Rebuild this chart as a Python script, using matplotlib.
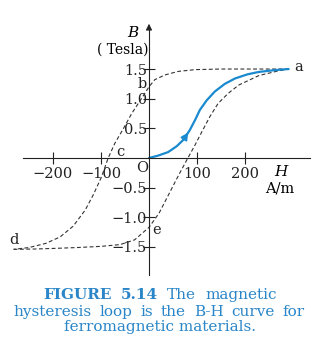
import matplotlib
matplotlib.use("Agg")
import matplotlib.pyplot as plt

# B-H hysteresis data (H in A/m, B in Tesla)
init_H = [0, 19, 40, 58, 72, 85, 96, 106, 120, 137, 158, 179, 205, 228, 260, 291]
init_B = [0, 0.04, 0.10, 0.20, 0.31, 0.47, 0.64, 0.81, 0.97, 1.12, 1.25, 1.34, 1.41, 1.45, 1.48, 1.50]

upper_H = [291, 250, 200, 150, 96, 61, 33, 12, 0, -15, -36, -53, -71, -85, -99, -116, -133, -158, -185, -215, -250, -282]
upper_B = [1.50, 1.50, 1.50, 1.50, 1.49, 1.46, 1.40, 1.32, 1.20, 1.01, 0.75, 0.50, 0.25, 0.0, -0.32, -0.62, -0.88, -1.15, -1.33, -1.44, -1.51, -1.54]

lower_H = [-282, -240, -200, -150, -100, -60, -30, 0, 21, 42, 63, 81, 96, 110, 127, 144, 165, 187, 229, 270, 291]
lower_B = [-1.54, -1.535, -1.525, -1.51, -1.49, -1.46, -1.38, -1.17, -0.93, -0.60, -0.27, 0.0, 0.22, 0.44, 0.70, 0.92, 1.09, 1.23, 1.39, 1.47, 1.50]

x_ticks = [-200, -100, 100, 200]
x_labels = ["\u2212200", "\u2212100", "100", "200"]
y_ticks = [-1.5, -1.0, -0.5, 0.5, 1.0, 1.5]
y_labels = ["\u22121.5", "\u22121.0", "\u22120.5", "0.5", "1.0", "1.5"]

# point labels on the loop
pt_names = ["a", "b", "c", "d", "e", "O"]
pt_H = [312, -13, -60, -281, 15, -15]
pt_B = [1.53, 1.25, 0.10, -1.38, -1.21, -0.17]

cap_line1 = [("FIGURE", "bold"), ("5.14", "bold"), ("The", "normal"), ("magnetic", "normal")]
cap_line2 = "hysteresis loop is the B-H curve for"
cap_line3 = "ferromagnetic materials."

BLUE = "#1a8ad0"
CAPTION = "#2a86c8"
SERIF = "DejaVu Serif"
CAP_SIZE = 11


def justify(fig, words, y, left, right):
    # spread words evenly between left and right (pixels), like the book's justified text
    r = fig.canvas.get_renderer()
    W = fig.bbox.width
    texts = [fig.text(0, y, w, family=SERIF, weight=wt, fontsize=CAP_SIZE,
                      color=CAPTION, va="center") for w, wt in words]
    widths = [t.get_window_extent(r).width for t in texts]
    gap = (right - left - sum(widths)) / (len(words) - 1)
    x = left
    for t, w in zip(texts, widths):
        t.set_x(x / W)
        x += w + gap


fig = plt.figure(figsize=(3.2, 3.6), dpi=100)
ax = fig.add_axes([0, 0, 1, 1])
ax.set_xlim(-310.4, 356.3)
ax.set_ylim(-3.406, 2.664)
ax.patch.set_alpha(0)

# axes through the origin
for s in ["top", "right"]:
    ax.spines[s].set_visible(False)
ax.spines["left"].set_position(("data", 0))
ax.spines["bottom"].set_position(("data", 0))
ax.spines["left"].set_bounds(-1.97, 2.2)
ax.spines["bottom"].set_bounds(-262, 335)
for s in ["left", "bottom"]:
    ax.spines[s].set_linewidth(0.8)
    ax.spines[s].set_color("#222222")
ax.annotate("", xy=(0, 2.31), xytext=(0, 2.12),
            arrowprops=dict(arrowstyle="-|>", color="#222222", lw=0.8, mutation_scale=9))

ax.set_xticks(x_ticks)
ax.set_xticklabels(x_labels, family=SERIF, fontsize=10.5, color="#222222")
ax.set_yticks(y_ticks)
ax.set_yticklabels(y_labels, family=SERIF, fontsize=10.5, color="#222222")
ax.tick_params(axis="both", direction="inout", length=9, width=0.8, color="#222222")
ax.tick_params(axis="x", pad=2)
ax.tick_params(axis="y", pad=-3)

# loop branches
ax.plot(upper_H, upper_B, ls=(0, (3.5, 2.2)), lw=0.8, color="#333333")
ax.plot(lower_H, lower_B, ls=(0, (3.5, 2.2)), lw=0.8, color="#333333")
ax.plot(init_H, init_B, lw=1.6, color=BLUE, solid_capstyle="round", solid_joinstyle="round")
ax.annotate("", xy=(init_H[5], init_B[5]), xytext=(init_H[4], init_B[4]),
            arrowprops=dict(arrowstyle="-|>", color=BLUE, lw=1.2, mutation_scale=11))

for name, h, b in zip(pt_names, pt_H, pt_B):
    ax.text(h, b, name, family=SERIF, fontsize=10.5, ha="center", va="center", color="#222222")

ax.text(-33, 2.11, "B", family=SERIF, style="italic", fontsize=11, ha="center", va="center")
ax.text(-55, 1.82, "( Tesla)", family=SERIF, fontsize=10, ha="center", va="center")
ax.text(275, -0.24, "H", family=SERIF, style="italic", fontsize=11, ha="center", va="center")
ax.text(272, -0.51, "A/m", family=SERIF, fontsize=10.5, ha="center", va="center")

# caption: first two lines justified, last line centred
justify(fig, cap_line1, 1 - 295 / 360, 43, 277)
justify(fig, [(w, "normal") for w in cap_line2.split()], 1 - 312 / 360, 13, 305)
fig.text(0.5, 1 - 327 / 360, cap_line3, family=SERIF,
         fontsize=CAP_SIZE, color=CAPTION, ha="center", va="center")

fig.savefig("out.png", dpi=100)
